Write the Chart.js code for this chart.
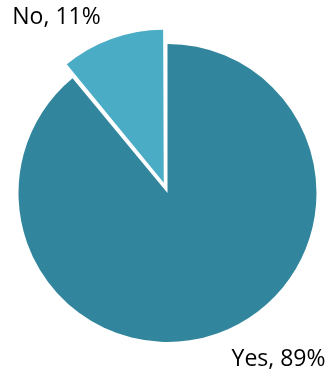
<!DOCTYPE html>
<html>
<head>
<meta charset="utf-8">
<script src="https://cdn.jsdelivr.net/npm/chart.js@4"></script>
<style>
  html, body { margin: 0; padding: 0; background: #fff; overflow: hidden; }
  /* canvas rộng hơn cửa sổ một chút để lát "No" có chỗ tách ra */
  #wrap { position: relative; left: -10px; width: 349px; height: 376px; }
</style>
</head>
<body>
<div id="wrap"><canvas id="pieChart"></canvas></div>
<script>
// Dữ liệu biểu đồ
const categories = ['Yes', 'No'];
const values = [89, 11];
const colors = ['#31859C', '#4BACC6'];

// Vị trí nhãn (tỉ lệ theo bán kính)
const labelPos = [
    { dx: 0.745, dy: 1.12 },
    { dx: -0.745, dy: -1.178 }
];

// Plugin vẽ nhãn "Yes, 89%"
const pieLabels = {
    id: 'pieLabels',
    afterDraw(chart) {
        const ctx = chart.ctx;
        const arcs = chart.getDatasetMeta(0).data;
        ctx.save();
        ctx.font = '23px "Open Sans", sans-serif';
        ctx.fillStyle = '#000';
        ctx.textAlign = 'center';
        ctx.textBaseline = 'middle';
        arcs.forEach((arc, i) => {
            const p = arc.getProps(['x', 'y', 'outerRadius'], true);
            const x = p.x + labelPos[i].dx * p.outerRadius;
            const y = p.y + labelPos[i].dy * p.outerRadius;
            ctx.fillText(`${categories[i]}, ${values[i]}%`, x, y);
        });
        ctx.restore();
    }
};

const config = {
    type: 'pie',
    data: {
        labels: categories,
        datasets: [{
            data: values,
            backgroundColor: colors,
            borderWidth: 0,
            offset: [0, 44]
        }]
    },
    options: {
        responsive: true,
        maintainAspectRatio: false,
        animation: false,
        layout: {
            padding: { left: 6.5, right: 0.5, top: 22, bottom: 12 }
        },
        plugins: {
            legend: { display: false },
            tooltip: { enabled: false }
        }
    },
    plugins: [pieLabels]
};

const pieChart = new Chart(document.getElementById('pieChart'), config);
</script>
</body>
</html>
